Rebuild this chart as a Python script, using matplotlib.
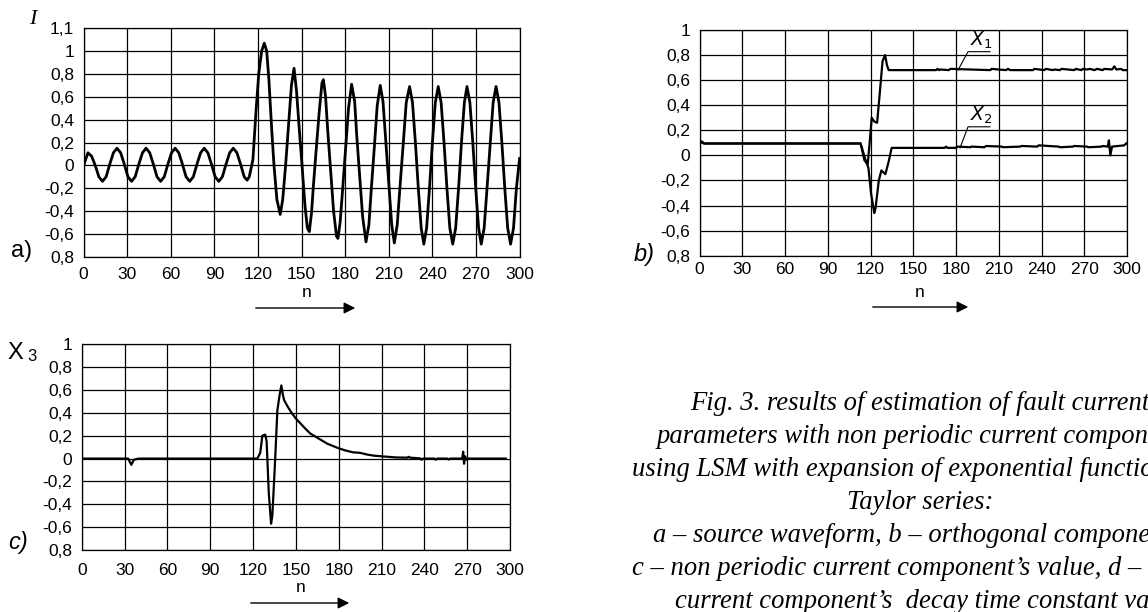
import numpy as np
import matplotlib
matplotlib.use("Agg")
import matplotlib.pyplot as plt

# a) source waveform I(n)
n_a = [0, 3, 5.5, 8, 10.5, 13,
       15.5, 18, 20.5, 23, 25.5, 28, 30.5, 33,
       35.5, 38, 40.5, 43, 45.5, 48, 50.5, 53,
       55.5, 58, 60.5, 63, 65.5, 68, 70.5, 73,
       75.5, 78, 80.5, 83, 85.5, 88, 90.5, 93,
       95.5, 98, 100.5, 103, 105.5, 108, 110.5, 112.5,
       114, 116.5, 118.5, 120.5, 122.5, 124.3, 126, 127.5, 129.5, 131, 133, 135.3,
       137, 139, 141, 143, 144.8, 146.5, 148.5, 150.3, 152.3, 154, 155.3,
       156.8, 158, 159.5, 162, 164, 165, 166.5, 168, 170, 172, 174, 175,
       176.5, 178, 180, 182.3, 184.4, 186.5, 188, 190, 192, 194.3,
       196.3, 198, 200, 202, 204.1, 206, 208, 210, 212, 213.8,
       215.8, 217.8, 220, 222, 224.3, 226.3, 228.3, 230.3, 232.3, 234.1,
       236, 238, 240, 242, 244, 246, 248, 250, 252, 254,
       256, 258, 260, 262, 263.8, 265.8, 267.8, 269.8, 271.8, 273.6,
       275.6, 277.6, 279.8, 281.8, 283.8, 285.8, 287.8, 289.8, 291.8, 293.8,
       295.8, 297.8, 300]
i_a = [0.0, 0.11, 0.08, 0.0, -0.10, -0.14,
       -0.10, 0.01, 0.11, 0.15, 0.11, 0.01, -0.10, -0.14,
       -0.10, 0.01, 0.11, 0.15, 0.11, 0.01, -0.10, -0.14,
       -0.10, 0.01, 0.11, 0.15, 0.11, 0.01, -0.10, -0.14,
       -0.10, 0.01, 0.11, 0.15, 0.11, 0.01, -0.10, -0.14,
       -0.10, 0.01, 0.11, 0.15, 0.11, 0.01, -0.10, -0.13,
       -0.10, 0.05, 0.45, 0.80, 1.00, 1.07, 1.00, 0.75, 0.30, 0.0, -0.30, -0.43,
       -0.30, 0.0, 0.35, 0.70, 0.85, 0.65, 0.30, 0.0, -0.35, -0.55, -0.58,
       -0.42, -0.20, 0.05, 0.45, 0.72, 0.75, 0.60, 0.30, -0.05, -0.40, -0.62, -0.64,
       -0.50, -0.25, 0.10, 0.50, 0.71, 0.56, 0.25, -0.10, -0.45, -0.67,
       -0.52, -0.20, 0.15, 0.52, 0.70, 0.56, 0.20, -0.15, -0.52, -0.68,
       -0.52, -0.17, 0.20, 0.55, 0.69, 0.55, 0.20, -0.20, -0.55, -0.69,
       -0.55, -0.20, 0.20, 0.55, 0.69, 0.55, 0.20, -0.20, -0.55, -0.69,
       -0.55, -0.20, 0.20, 0.55, 0.69, 0.55, 0.20, -0.20, -0.55, -0.69,
       -0.55, -0.20, 0.20, 0.55, 0.69, 0.55, 0.20, -0.20, -0.55, -0.69,
       -0.55, -0.20, 0.06]

# b) orthogonal components X1, X2
n_x1 = [0, 1.5, 3, 113, 115.7, 118, 119.5, 120.8, 122.6, 124.6, 126.5, 128.4, 130.2, 131.5, 132.7,
        166, 167, 168, 169, 175, 176, 204, 205, 215, 216.5, 218, 234, 235,
        242, 243, 248, 249, 253, 254, 263, 264, 268, 269, 272, 274, 277, 279,
        283, 284, 289.5, 291.1, 292.5, 296, 297, 300]
v_x1 = [0.09, 0.11, 0.095, 0.095, -0.04, -0.07, 0.12, 0.30, 0.27, 0.26, 0.50, 0.75, 0.80, 0.72, 0.68,
        0.68, 0.69, 0.68, 0.685, 0.68, 0.69, 0.68, 0.69, 0.68, 0.69, 0.68, 0.68, 0.69,
        0.68, 0.69, 0.68, 0.685, 0.68, 0.69, 0.68, 0.69, 0.68, 0.69, 0.685, 0.69, 0.68, 0.69,
        0.68, 0.69, 0.685, 0.71, 0.685, 0.69, 0.68, 0.68]
n_x2 = [0, 1.5, 3, 113, 116, 118.5, 120.3, 122.6, 123.5, 125.8, 127.6, 130.4, 132.7, 134.8,
        172, 173, 174, 180, 181, 190, 191, 200, 201, 212, 213, 225, 226,
        237, 238, 252, 253, 262, 263, 272, 273, 282, 283, 286.5, 287.3, 288.3, 289.5, 298, 300]
v_x2 = [0.09, 0.11, 0.095, 0.095, -0.02, -0.10, -0.30, -0.46, -0.42, -0.20, -0.12, -0.15, -0.05, 0.06,
        0.06, 0.07, 0.06, 0.06, 0.07, 0.065, 0.07, 0.065, 0.075, 0.07, 0.065, 0.07, 0.075,
        0.07, 0.08, 0.07, 0.065, 0.07, 0.075, 0.07, 0.065, 0.07, 0.075, 0.07, 0.12, 0.0, 0.07, 0.08, 0.10]

# c) non periodic current component X3
n_x3 = [0, 32.5, 34.7, 36.5, 38, 40, 123, 125, 126.5, 128.5, 129.5, 131, 132.6, 133.5, 135.5,
        137, 138.5, 139.8, 141, 141.8, 144, 147, 150, 153, 156, 160, 164, 168, 172, 176,
        180, 185, 190, 195, 200, 205, 210, 215, 220, 228, 229, 230, 237, 238, 239,
        247, 248, 249, 256, 257, 258, 266.5, 267.2, 267.8, 268.5, 269.5, 271, 297]
v_x3 = [0.0, 0.0, -0.055, -0.01, -0.005, 0.0, 0.0, 0.05, 0.20, 0.21, 0.15, -0.30, -0.57, -0.50, 0.0,
        0.42, 0.55, 0.64, 0.55, 0.51, 0.46, 0.40, 0.35, 0.31, 0.27, 0.22, 0.19, 0.16, 0.13, 0.11,
        0.09, 0.07, 0.055, 0.05, 0.035, 0.025, 0.02, 0.015, 0.01, 0.008, 0.015, 0.008, 0.002, -0.01, 0.0,
        0.0, -0.01, 0.0, 0.0, -0.008, 0.0, 0.0, 0.06, -0.045, 0.02, -0.01, 0.0, 0.0]

x_ticks = [0, 30, 60, 90, 120, 150, 180, 210, 240, 270, 300]
y_labels_a = ["0,8", "-0,6", "-0,4", "-0,2", "0", "0,2", "0,4", "0,6", "0,8", "1", "1,1"]
y_labels_bc = ["0,8", "-0,6", "-0,4", "-0,2", "0", "0,2", "0,4", "0,6", "0,8", "1"]

caption = [
    "Fig. 3. results of estimation of fault current",
    "parameters with non periodic current component",
    "using LSM with expansion of exponential function in",
    "Taylor series:",
    "a \u2013 source waveform, b \u2013 orthogonal components,",
    "c \u2013 non periodic current component\u2019s value, d \u2013 non",
    "current component\u2019s  decay time constant value",
]
caption_x = [690, 657, 632, 847, 653, 632, 675]

plt.rcParams["font.family"] = ["Liberation Sans", "DejaVu Sans"]

W, H = 1148, 612
fig = plt.figure(figsize=(W / 100, H / 100), dpi=100)


def px(x, y):
    return x / W, 1 - y / H


def make_axes(left, top, right, bottom, ylim, ylabels, xpad):
    x0, y0 = px(left, bottom)
    x1, y1 = px(right, top)
    ax = fig.add_axes([x0, y0, x1 - x0, y1 - y0])
    ax.set_xlim(0, 300)
    ax.set_ylim(*ylim)
    ax.set_xticks(x_ticks)
    ax.set_yticks(np.linspace(ylim[0], ylim[1], len(ylabels)))
    ax.set_yticklabels(ylabels)
    ax.grid(True, color="black", linewidth=0.9)
    ax.tick_params(length=0, labelsize=12.5, colors="black")
    ax.tick_params(axis="y", pad=7)
    ax.tick_params(axis="x", pad=xpad)
    for s in ax.spines.values():
        s.set_linewidth(0.9)
    return ax


def arrow(x0, x1, y):
    fig.add_artist(matplotlib.patches.FancyArrowPatch(
        px(x0, y), px(x1, y), transform=fig.transFigure,
        arrowstyle="-|>", mutation_scale=17, color="black", linewidth=1))


# panel a
ax_a = make_axes(83.6, 28.3, 519.6, 256.7, (-0.8, 1.2), y_labels_a, 7.5)
ax_a.plot(n_a, i_a, color="black", linewidth=2.0)
fig.text(*px(33, 19), "I", family="Liberation Serif", style="italic", fontsize=16, ha="center", va="center")
fig.text(*px(21.5, 251), "a)", fontsize=17, ha="center", va="center")
fig.text(*px(307, 292), "n", fontsize=12.5, ha="center", va="center")
arrow(253, 358, 308)

# panel b
ax_b = make_axes(699.6, 30, 1127, 255.7, (-0.8, 1.0), y_labels_bc, 4.5)
ax_b.plot(n_x1, v_x1, color="black", linewidth=1.6)
ax_b.plot(n_x2, v_x2, color="black", linewidth=1.6)
ax_b.plot([181.4, 188.4, 203.8], [0.68, 0.827, 0.827], color="black", linewidth=0.8)
ax_b.plot([182.8, 188.4, 203.8], [0.06, 0.228, 0.228], color="black", linewidth=0.8)
ax_b.text(190, 0.835, r"$\mathit{X}_{\mathit{1}}$", fontsize=13.5, ha="left", va="bottom")
ax_b.text(190, 0.236, r"$\mathit{X}_{\mathit{2}}$", fontsize=13.5, ha="left", va="bottom")
fig.text(*px(644, 254), "b)", fontsize=17, style="italic", ha="center", va="center")
fig.text(*px(920, 292), "n", fontsize=12.5, ha="center", va="center")
arrow(870, 971, 307)

# panel c
ax_c = make_axes(81.8, 344.3, 510, 550, (-0.8, 1.0), y_labels_bc, 9.5)
ax_c.plot(n_x3, v_x3, color="black", linewidth=1.6)
fig.text(*px(7, 359), "X", fontsize=17, ha="left", va="baseline")
fig.text(*px(27, 361), "3", fontsize=12, ha="left", va="baseline")
fig.text(*px(18, 543), "c)", fontsize=17, style="italic", ha="center", va="center")
fig.text(*px(301, 587), "n", fontsize=12.5, ha="center", va="center")
arrow(248, 352, 603)

# caption
for k, line in enumerate(caption):
    fig.text(*px(caption_x[k], 403 + 33.1 * k), line, family="Liberation Serif",
             style="italic", fontsize=19.2, ha="left", va="center")

fig.savefig("out.png", dpi=100)
